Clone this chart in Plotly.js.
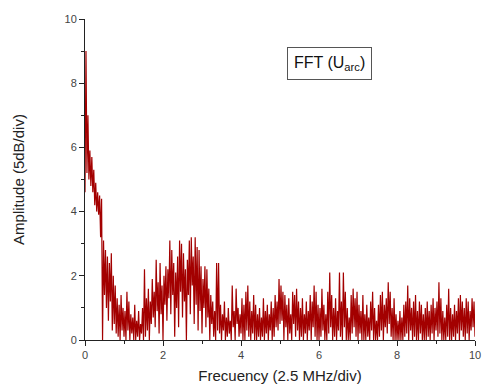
<!DOCTYPE html>
<html>
<head>
<meta charset="utf-8">
<script src="https://cdn.plot.ly/plotly-3.0.1.min.js"></script>
<style>html,body{margin:0;padding:0;background:#fff;}#chart{width:484px;height:390px;}</style>
</head>
<body>
<div id="chart"></div>
<script>
// Frequency grid: start and step (divisions)
const freqStart = 0;
const freqStep = 0.025;

// Amplitude values (5 dB/div), 0 to 10 div
const amp0 = [4.6,9.0,5.2,7.0,5.0,5.9,4.8,5.7,4.6,5.3,4.2,4.9,4.0,4.6,3.9,4.5,3.2,4.4,0.0,3.1,
              1.4,2.8,1.0,2.6,0.6,2.4,1.2,2.7,0.3,2.0,0.5,1.7,0.2,1.3,0.1,1.1,0.0,1.4,0.3,1.0];
const amp1 = [0.1,0.9,0.0,1.5,0.3,1.2,0.0,0.8,0.2,0.7,0.0,1.1,0.0,0.6,0.1,0.9,0.0,0.5,0.2,1.0,
              0.0,2.2,0.1,1.3,0.3,1.6,0.0,1.2,0.5,1.9,0.7,1.5,0.4,2.5,0.9,1.8,0.2,2.4,0.8,1.7];
const amp2 = [0.0,2.0,1.1,2.3,0.6,2.2,1.3,3.1,0.8,2.8,1.4,2.4,0.1,2.1,1.0,2.6,0.4,3.1,1.5,3.0,
              0.7,2.7,1.2,2.2,0.0,2.5,1.4,3.1,0.8,3.2,1.7,2.6,0.5,3.2,1.1,2.9,0.3,2.8,0.9,2.3];
const amp3 = [0.2,1.9,1.0,2.3,0.4,2.2,0.7,1.6,0.0,1.4,0.5,1.2,0.1,0.9,0.0,2.4,0.3,2.4,0.2,1.1,
              0.0,0.8,0.3,1.2,0.0,0.7,0.1,1.0,0.2,0.6,0.0,1.7,0.4,0.9,0.0,1.6,0.5,1.0,0.1,0.8];
const amp4 = [0.2,1.3,0.0,1.1,0.0,1.5,0.3,1.7,0.1,1.2,0.0,0.9,0.2,1.4,0.0,1.1,0.0,0.8,0.1,1.0,
              0.0,0.7,0.1,1.3,0.0,0.9,0.2,1.1,0.0,0.8,0.3,1.2,0.0,1.0,0.1,1.4,0.4,1.2,0.3,1.9];
const amp5 = [0.5,1.7,0.6,1.5,0.0,1.4,0.4,1.1,0.0,1.3,0.2,0.8,0.0,1.5,0.5,1.4,0.1,1.6,0.3,1.2,
              0.0,1.0,0.1,1.3,0.0,0.8,0.2,1.2,0.0,0.9,0.3,1.4,0.0,1.2,0.4,1.7,0.1,1.5,0.0,1.1];
const amp6 = [0.0,1.0,0.1,1.6,0.3,1.1,0.0,0.8,0.0,1.5,0.2,2.1,0.4,1.4,0.0,1.0,0.1,1.3,0.0,0.9,
              0.3,2.1,0.1,1.2,0.0,2.1,0.4,1.5,0.0,1.0,0.0,0.7,0.0,1.4,0.2,1.6,0.4,1.3,0.1,1.5];
const amp7 = [0.0,1.1,0.2,0.9,0.0,1.4,0.0,0.8,0.0,1.1,0.1,0.7,0.0,1.2,0.3,1.5,0.0,1.0,0.0,0.6,
              0.0,1.1,0.1,1.4,0.3,1.5,0.0,1.1,0.4,1.3,0.2,1.8,0.5,1.5,0.1,1.0,0.0,1.3,0.0,0.8];
const amp8 = [0.0,0.6,0.0,0.9,0.0,0.7,0.0,1.1,0.1,1.2,0.2,1.7,0.0,1.3,0.3,1.0,0.0,1.2,0.1,1.4,
              0.0,0.9,0.0,1.2,0.2,1.1,0.0,0.8,0.0,1.0,0.0,1.2,0.1,0.9,0.0,1.1,0.2,1.3,0.0,1.0];
const amp9 = [0.3,1.2,0.1,1.8,0.2,1.3,0.0,0.9,0.0,0.7,0.0,1.1,0.1,1.6,0.0,1.0,0.0,0.8,0.1,1.1,
              0.0,0.9,0.2,1.3,0.0,1.4,0.3,1.2,0.1,1.0,0.0,1.3,0.2,1.2,0.0,0.9,0.3,1.3,0.4,1.2,0.1];

const amplitude = [].concat(amp0, amp1, amp2, amp3, amp4, amp5, amp6, amp7, amp8, amp9);

const xTitle = 'Frecuency (2.5 MHz/div)';
const yTitle = 'Amplitude (5dB/div)';
const label = 'FFT (U<sub>arc</sub>)';

const trace = {
  type: 'scatter',
  mode: 'lines',
  x0: freqStart,
  dx: freqStep,
  y: amplitude,
  line: {color: '#a30000', width: 1.2},
  hoverinfo: 'skip'
};

const fontFam = 'Liberation Sans, Arial, sans-serif';

const axisCommon = {
  range: [0, 10],
  showline: true,
  linecolor: '#222',
  linewidth: 1,
  ticks: 'outside',
  ticklen: 5,
  tickwidth: 1,
  tickcolor: '#222',
  dtick: 2,
  tick0: 0,
  minor: {ticks: 'outside', ticklen: 3, dtick: 1, tickcolor: '#222', showgrid: false},
  showgrid: false,
  zeroline: false,
  tickfont: {family: fontFam, size: 11, color: '#444'}
};

const layout = {
  width: 484,
  height: 390,
  margin: {l: 85, r: 9, t: 19, b: 50},
  paper_bgcolor: '#fff',
  plot_bgcolor: '#fff',
  showlegend: false,
  xaxis: Object.assign({}, axisCommon, {
    title: {text: xTitle, font: {family: fontFam, size: 15, color: '#222'}, standoff: 10}
  }),
  yaxis: Object.assign({}, axisCommon, {
    title: {text: yTitle, font: {family: fontFam, size: 15, color: '#222'}, standoff: 36}
  }),
  annotations: [{
    text: label,
    x: 6.28, y: 8.6, xref: 'x', yref: 'y',
    showarrow: false,
    font: {family: fontFam, size: 16, color: '#111'},
    bordercolor: '#555',
    borderwidth: 1,
    borderpad: 6,
    bgcolor: '#fff'
  }]
};

Plotly.newPlot('chart', [trace], layout, {displayModeBar: false, staticPlot: true});
</script>
</body>
</html>
